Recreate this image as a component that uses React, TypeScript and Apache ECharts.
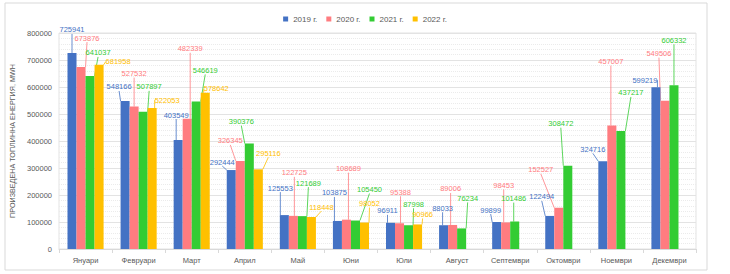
import React, { useEffect, useRef } from "react";
import * as echarts from "echarts";

const months = ["Януари", "Февруари", "Март", "Април", "Май", "Юни", "Юли", "Август", "Септември", "Октомври", "Ноември", "Декември"];
const seriesNames = ["2019 г.", "2020 г.", "2021 г.", "2022 г."];
const v2019 = [725941, 548166, 403549, 292444, 125553, 103875, 96911, 88033, 99899, 122494, 324716, 599219];
const v2020 = [673876, 527532, 482339, 326345, 122725, 108689, 95388, 89006, 98453, 152527, 457007, 549506];
const v2021 = [641037, 507897, 546619, 390376, 121689, 105450, 87998, 76234, 101486, 308472, 437217, 606332];
const v2022 = [681958, 522053, 578642, 295116, 118448, 98052, 90966, null, null, null, null, null];
const yTicks = [0, 100000, 200000, 300000, 400000, 500000, 600000, 700000, 800000];

const colors = ["#4472C4", "#FF7C80", "#33CC33", "#FFC000"];

// label offsets [dx, dy] relative to default "top" placement
const off2019 = [[0, -14], [-6, -5], [-2, -16], [-9, 1], [-4, -18], [-3, -19], [-3, -3], [-1, -8], [-6, -3], [-8, -10], [-10, -3], [-11, 2]];
const off2020 = [[6, -20], [0, -24], [3, -61], [-10, -11], [1, -34], [2, -42], [1, -22], [-2, -27], [-2, -28], [-18, -29], [-1, -55], [-6, -38]];
const off2021 = [[8, -14], [6, -16], [9, -22], [-8, -13], [6, -24], [14, -22], [5, -12], [6, -21], [-1, -14], [-7, -33], [10, -29], [0, -36]];
const off2022 = [[19, 6], [15, 1], [11, 5], [10, -7], [10, -1], [5, -10], [5, -1], [0, 0], [0, 0], [0, 0], [0, 0], [0, 0]];

export default function App() {
  const ref = useRef<HTMLDivElement>(null);
  useEffect(() => {
    document.body.style.margin = "0";
    const chart = echarts.init(ref.current!, null, { renderer: "svg" });
    const values = [v2019, v2020, v2021, v2022];
    const offsets = [off2019, off2020, off2021, off2022];
    const font = "Liberation Sans, Arial, sans-serif";
    chart.setOption({
      animation: false,
      backgroundColor: "#ffffff",
      textStyle: { fontFamily: font },
      graphic: [
        {
          type: "rect",
          shape: { x: 5, y: 3, width: 702, height: 267 },
          style: { fill: "none", stroke: "#D9D9D9", lineWidth: 1 },
          silent: true,
        },
      ],
      legend: {
        top: 10,
        left: "center",
        itemWidth: 5,
        itemHeight: 5,
        itemGap: 9,
        icon: "rect",
        textStyle: { color: "#595959", fontSize: 8, fontFamily: font },
        data: seriesNames,
      },
      grid: { left: 59, right: 34, top: 33, bottom: 25, show: true, borderColor: "#E3E3E3", borderWidth: 1 },
      xAxis: {
        type: "category",
        data: months,
        axisLine: { lineStyle: { color: "#D9D9D9" } },
        axisTick: { show: true, length: 4, lineStyle: { color: "#D9D9D9" } },
        axisLabel: { color: "#595959", fontSize: 7.5, margin: 7, fontFamily: font },
      },
      yAxis: {
        type: "value",
        min: 0,
        max: 800000,
        interval: 100000,
        name: "ПРОИЗВЕДЕНА ТОПЛИННА ЕНЕРГИЯ, MWH",
        nameLocation: "middle",
        nameRotate: 90,
        nameGap: 40,
        nameTextStyle: { color: "#595959", fontSize: 7.2, fontFamily: font },
        axisLine: { show: false },
        axisTick: { show: false },
        axisLabel: {
          color: "#595959",
          fontSize: 7.5,
          margin: 7,
          fontFamily: font,
          formatter: (v: number) => (yTicks.includes(v) ? String(v) : ""),
        },
        splitLine: { show: true, lineStyle: { color: "#E3E3E3", width: 1 } },
        minorSplitLine: { show: true, lineStyle: { color: "#EBEBEB", type: "dotted", width: 1 } },
        minorTick: { show: false, splitNumber: 5 },
      },
      series: values.map((vals, si) => ({
        name: seriesNames[si],
        type: "bar",
        data: vals,
        barGap: "0%",
        barCategoryGap: "32%",
        itemStyle: { color: colors[si] },
        label: {
          show: true,
          position: "top",
          color: colors[si],
          fontSize: 7.5,
          fontFamily: font,
        },
        labelLine: { show: true, lineStyle: { color: colors[si], width: 0.8 } },
        labelLayout: (p: any) => {
          const o = offsets[si][p.dataIndex] || [0, 0];
          return { dx: o[0], dy: o[1] };
        },
      })),
    });
    return () => chart.dispose();
  }, []);
  return <div ref={ref} style={{ width: 730, height: 274 }} />;
}
